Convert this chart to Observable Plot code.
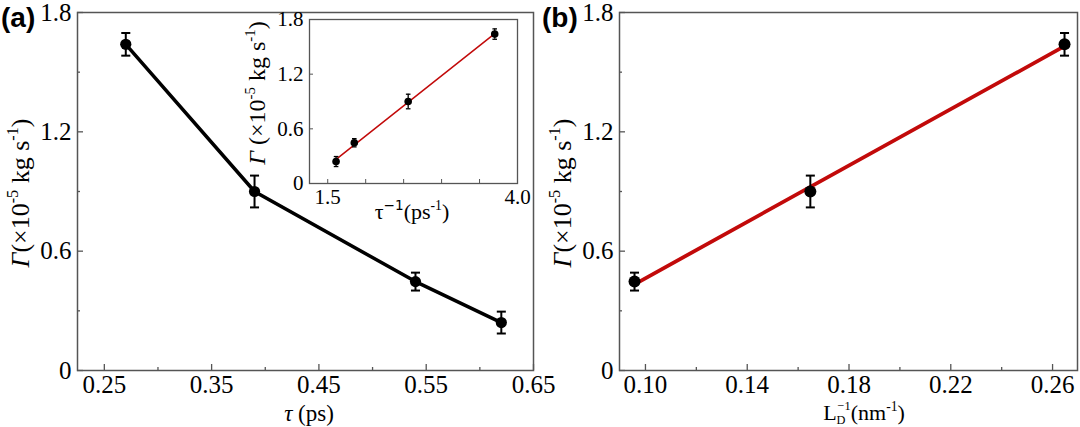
<!DOCTYPE html>
<html><head><meta charset="utf-8">
<script src="https://cdn.jsdelivr.net/npm/d3@7"></script>
<script src="https://cdn.jsdelivr.net/npm/@observablehq/plot@0.6"></script>
<style>
html,body{margin:0;padding:0;background:#fff;}
#chart{position:relative;width:1080px;height:427px;overflow:hidden;background:#fff;}
#chart svg{position:absolute;left:0;top:0;}
</style></head><body><div id="chart"></div>
<script>
// ---- data ----
const tau = [0.27, 0.39, 0.54, 0.62];            // τ (ps)
const gammaA = [1.64, 0.90, 0.447, 0.241];        // Γ (×10^-5 kg s^-1)
const gammaAErr = [0.057, 0.08, 0.045, 0.055];
const invTau = [3.70, 2.56, 1.85, 1.61];          // τ^-1 (ps^-1), inset
const invLD = [0.0957, 0.1648, 0.2647];           // L_D^-1 (nm^-1)
const gammaB = [0.447, 0.90, 1.64];
const gammaBErr = [0.045, 0.08, 0.057];
const yTicksMajor = [0, 0.6, 1.2, 1.8];
const yTicksMinor = [0.3, 0.9, 1.5];
const xTicksA = [0.25, 0.35, 0.45, 0.55, 0.65];
const xTicksAMinor = [0.30, 0.40, 0.50, 0.60];
const xTicksB = [0.10, 0.14, 0.18, 0.22, 0.26];
const xTicksBMinor = [0.12, 0.16, 0.20, 0.24];
const insetXLabels = [1.5, 4.0];
const insetXTicks = [1.5, 2.0, 2.5, 3.0, 3.5];

const dataA = tau.map((x, i) => ({x, y: gammaA[i], e: gammaAErr[i]}));
const dataInset = invTau.map((x, i) => ({x, y: gammaA[i], e: gammaAErr[i]}));
const dataB = invLD.map((x, i) => ({x, y: gammaB[i], e: gammaBErr[i]}));

const W = 1080, H = 427;
const SERIF = "Liberation Serif, Times New Roman, serif";
const fmtY = d => d === 0 ? "0" : d.toFixed(1);
const capSymbol = {draw(ctx, size) { const w = Math.sqrt(size); ctx.moveTo(-w / 2, 0); ctx.lineTo(w / 2, 0); }};
const style = fs => ({fontFamily: SERIF, fontSize: fs + "px", color: "black", background: "transparent", overflow: "visible"});

function errorMarks(data, capR, sw) {
  return [
    Plot.ruleX(data, {x: "x", y1: d => d.y - d.e, y2: d => d.y + d.e, stroke: "black", strokeWidth: sw}),
    Plot.dot(data, {x: "x", y: d => d.y - d.e, symbol: capSymbol, r: capR, stroke: "black", strokeWidth: sw, fill: "none"}),
    Plot.dot(data, {x: "x", y: d => d.y + d.e, symbol: capSymbol, r: capR, stroke: "black", strokeWidth: sw, fill: "none"})
  ];
}

// frame geometry
const A = {l: 77, r: 533, t: 12, b: 370};
const B = {l: 619, r: 1077, t: 12, b: 370};
const I = {l: 309, r: 517, t: 19, b: 183};

const plotA = Plot.plot({
  width: W, height: H, marginLeft: A.l, marginRight: W - A.r, marginTop: A.t, marginBottom: H - A.b,
  style: style(25),
  x: {domain: [0.225, 0.65]}, y: {domain: [0, 1.8]},
  marks: [
    Plot.frame({stroke: "#555", strokeWidth: 1.5}),
    Plot.tickX(xTicksA, {x: d => d, insetTop: (A.b - A.t) - 6, stroke: "#555", strokeWidth: 1.3}),
    Plot.tickX(xTicksAMinor, {x: d => d, insetTop: (A.b - A.t) - 3, stroke: "#555", strokeWidth: 1.3}),
    Plot.tickY(yTicksMajor, {y: d => d, insetRight: (A.r - A.l) - 6, stroke: "#555", strokeWidth: 1.3}),
    Plot.tickY(yTicksMinor, {y: d => d, insetRight: (A.r - A.l) - 3, stroke: "#555", strokeWidth: 1.3}),
    Plot.axisX(xTicksA, {tickSize: 0, tickPadding: 5, tickFormat: d => d.toFixed(2), label: null, fontFamily: SERIF, fontSize: 25}),
    Plot.axisY(yTicksMajor, {tickSize: 0, tickPadding: 6, tickFormat: fmtY, label: null, fontFamily: SERIF, fontSize: 25}),
    Plot.line(dataA, {x: "x", y: "y", stroke: "black", strokeWidth: 3.5}),
    ...errorMarks(dataA, 5.1, 2),
    Plot.dot(dataA, {x: "x", y: "y", r: 5.6, fill: "black"})
  ]
});

const plotB = Plot.plot({
  width: W, height: H, marginLeft: B.l, marginRight: W - B.r, marginTop: B.t, marginBottom: H - B.b,
  style: style(25),
  x: {domain: [0.0898, 0.2698]}, y: {domain: [0, 1.8]},
  marks: [
    Plot.frame({stroke: "#555", strokeWidth: 1.5}),
    Plot.tickX(xTicksB, {x: d => d, insetTop: (B.b - B.t) - 6, stroke: "#555", strokeWidth: 1.3}),
    Plot.tickX(xTicksBMinor, {x: d => d, insetTop: (B.b - B.t) - 3, stroke: "#555", strokeWidth: 1.3}),
    Plot.tickY(yTicksMajor, {y: d => d, insetRight: (B.r - B.l) - 6, stroke: "#555", strokeWidth: 1.3}),
    Plot.tickY(yTicksMinor, {y: d => d, insetRight: (B.r - B.l) - 3, stroke: "#555", strokeWidth: 1.3}),
    Plot.axisX(xTicksB, {tickSize: 0, tickPadding: 5, tickFormat: d => d.toFixed(2), label: null, fontFamily: SERIF, fontSize: 25}),
    Plot.axisY(yTicksMajor, {tickSize: 0, tickPadding: 6, tickFormat: fmtY, label: null, fontFamily: SERIF, fontSize: 25}),
    Plot.linearRegressionY(dataB, {x: "x", y: "y", stroke: "#c20a0a", strokeWidth: 3.8, ci: 0}),
    ...errorMarks(dataB, 5.1, 2),
    Plot.dot(dataB, {x: "x", y: "y", r: 6, fill: "black"})
  ]
});

const plotI = Plot.plot({
  width: W, height: H, marginLeft: I.l, marginRight: W - I.r, marginTop: I.t, marginBottom: H - I.b,
  style: style(20),
  x: {domain: [1.26, 4.0]}, y: {domain: [0, 1.8]},
  marks: [
    Plot.frame({stroke: "#555", strokeWidth: 1.3, fill: "white"}),
    Plot.tickX(insetXTicks, {x: d => d, insetTop: (I.b - I.t) - 4, stroke: "#555", strokeWidth: 1}),
    Plot.tickY(yTicksMajor, {y: d => d, insetRight: (I.r - I.l) - 4, stroke: "#555", strokeWidth: 1}),
    Plot.axisX(insetXLabels, {tickSize: 0, tickPadding: 6, tickFormat: d => d.toFixed(1), label: null, fontFamily: SERIF, fontSize: 21}),
    Plot.axisY(yTicksMajor, {tickSize: 0, tickPadding: 6, tickFormat: fmtY, label: null, fontFamily: SERIF, fontSize: 21}),
    Plot.linearRegressionY(dataInset, {x: "x", y: "y", stroke: "#c20a0a", strokeWidth: 1.5, ci: 0}),
    ...errorMarks(dataInset, 2.6, 1.3),
    Plot.dot(dataInset, {x: "x", y: "y", r: 3.8, fill: "black"})
  ]
});

const chart = document.getElementById("chart");
chart.append(plotA, plotB, plotI);

// rich text helper: parts = [[text, kind, extra]], kind: "", "i", "sup", "sub"
function richText(svg, parts, {x, y, rotate = 0, size = 24, anchor = "middle", family = SERIF, weight = "normal"}) {
  const t = d3.select(svg).append("text")
    .attr("transform", `translate(${x},${y}) rotate(${rotate})`)
    .attr("text-anchor", anchor)
    .attr("font-family", family)
    .attr("font-size", size)
    .attr("font-weight", weight)
    .attr("fill", "black");
  let shift = 0;
  for (const [txt, kind, extra] of parts) {
    const s = t.append("tspan").text(txt);
    let target = 0;
    const rel = (extra && extra.scale) || 0.62;
    if (kind === "sup") { target = -((extra && extra.raise) || 0.42) * size; s.attr("font-size", rel * size); }
    else if (kind === "sub") { target = ((extra && extra.drop) || 0.15) * size; s.attr("font-size", rel * size); }
    else { s.attr("font-size", size); }
    if (kind === "i") s.attr("font-style", "italic");
    if (extra && extra.dx != null) s.attr("dx", extra.dx);
    if (extra && extra.weight) s.attr("font-weight", extra.weight);
    if (extra && extra.family) s.attr("font-family", extra.family);
    s.attr("dy", target - shift);
    shift = target;
  }
  return t;
}

const gammaTitle = [["Γ", "i"], ["(×10", ""], ["-5", "sup"], [" kg s", ""], ["-1", "sup"], [")", ""]];
richText(plotA, gammaTitle, {x: 29, y: 193, rotate: -90, size: 26});
richText(plotA, [["τ", "i"], [" (ps)", ""]], {x: 309, y: 421, size: 23});
richText(plotA, [["(a)", ""]], {x: 1, y: 27, size: 28, anchor: "start", family: "Liberation Sans, Arial, sans-serif", weight: "bold"});

richText(plotB, gammaTitle, {x: 571, y: 193, rotate: -90, size: 26});
richText(plotB, [["L", ""], ["D", "sub", {scale: 0.56, drop: 0.18}], ["−1", "sup", {dx: -0.36 * 22, raise: 0.44, scale: 0.56}], ["(nm", ""], ["-1", "sup"], [")", ""]], {x: 864, y: 420, size: 22});
richText(plotB, [["(b)", ""]], {x: 542, y: 27, size: 28, anchor: "start", family: "Liberation Sans, Arial, sans-serif", weight: "bold"});

richText(plotI, [["Γ", "i"], [" (×10", ""], ["-5", "sup"], [" kg s", ""], ["-1", "sup"], [")", ""]], {x: 265, y: 93, rotate: -90, size: 24});
richText(plotI, [["τ", ""], ["−1", "sup", {family: "DejaVu Sans, sans-serif"}], ["(ps", ""], ["-1", "sup"], [")", ""]], {x: 412, y: 219, size: 22});
</script></body></html>
